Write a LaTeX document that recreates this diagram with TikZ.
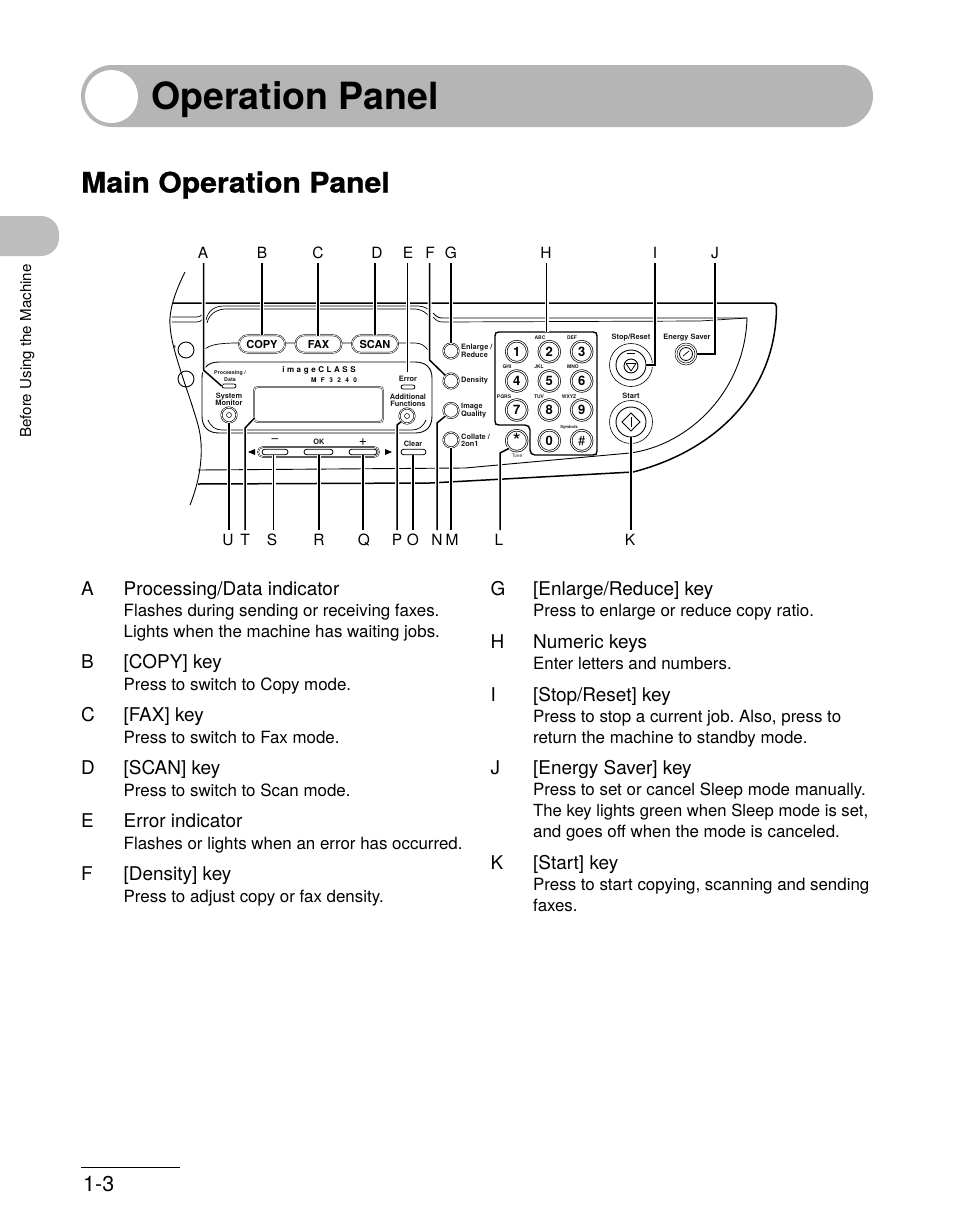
\documentclass[tikz,border=0pt]{standalone}
\usepackage{fontspec}
\setmainfont{TeX Gyre Heros}
\newfontfamily\heavyf[BoldFeatures={FakeBold=0.9,FakeStretch=1.07}]{TeX Gyre Heros}
\newcommand{\fsz}[1]{\fontsize{#1}{#1}\selectfont}
\definecolor{bargray}{HTML}{B5B5B5}
\definecolor{tabgray}{HTML}{BDBDBD}
\usetikzlibrary{shapes.misc}
\tikzset{
  lettr/.style={inner sep=0pt,text height=11pt,text depth=0pt,font=\fsz{15.5},outer ysep=4.5pt},
  conn/.style={line width=1.5pt,line join=miter,preaction={draw=white,line width=4pt}},
  heavyln/.style={line width=1.5pt},
  midln/.style={line width=0.9pt},
  thinln/.style={line width=0.7pt},
  rtxt/.style={inner sep=0pt,anchor=base west,font=\fsz{18.95}},
  stxt/.style={inner sep=0pt,anchor=base west,font=\fsz{16.9}},
  ptxt/.style={inner sep=0pt,align=center,font={\bfseries\fsz{7.4}},text=black!90},
  ltxt/.style={inner sep=0pt,align=left,anchor=west,font={\bfseries\fsz{7.4}},text=black!90},
  ktxt/.style={inner sep=0pt,font={\bfseries\fsz{5}},text=black!90},
  pillk/.style={draw,line width=0.8pt,rounded rectangle,inner sep=0pt,fill=white},
  modekey/.style={pillk,line width=0.5pt,double,double distance=0.7pt,minimum width=46pt,minimum height=17.5pt,font={\bfseries\fsz{11}}},
  roundkey/.style={circle,draw,inner sep=0pt,minimum size=15pt,line width=0.6pt,double,double distance=0.8pt},
  numkey/.style={circle,draw,inner sep=0pt,minimum size=21pt,line width=0.7pt,double,double distance=1pt,font={\bfseries\fsz{13}}},
}
\newcommand{\itm}[5]{%
  \node[rtxt] (#1l) at (#2,#3) {#4};
  \pgfmathsetmacro{\tx}{#2+42.5}
  \node[rtxt] (#1h) at (\tx,#3) {#5};}
\begin{document}
\frenchspacing
\begin{tikzpicture}[x=1pt,y=-1pt]
\useasboundingbox (0,0) rectangle (954,1227);
% title band
\fill[bargray,rounded corners=31pt] (81,65) rectangle (873,127);
\fill[white] (111.5,96.5) circle[radius=26.5];
\node[inner sep=0pt,anchor=base west,font={\bfseries\fsz{37.5}}] (title) at (151,109) {Operation Panel};
\node[inner sep=0pt,anchor=base west,font={\heavyf\bfseries\fsz{28.2}}] (main) at (81,192.5) {Main Operation Panel};
% side tab
\fill[tabgray,rounded corners=18pt] (-30,216) rectangle (59,256);
\node[inner sep=0pt,rotate=90,anchor=base west,font=\fsz{15.1}] (side) at (31,438) {Before Using the Machine};
% footer
\draw[line width=0.9pt] (81,1167) -- (180,1167);
\node[inner sep=0pt,anchor=base west,font=\fsz{21.5}] (page) at (83,1191) {1-3};

% ---- machine outline
\draw[midln] (185,272) .. controls (175,292) and (169,310) .. (170,325) .. controls (171,350) and (190,395) .. (198,425) .. controls (205,450) and (200,480) .. (190,505);
\draw[heavyln] (173,303) -- (773,303) .. controls (775,303) and (776.5,304) .. (776.5,307) .. controls (776,395) and (712,452) .. (633,472) -- (430,483) -- (198,484);
\draw[line width=0.9pt] (198,470) -- (465,468) -- (630,453) .. controls (690,445) and (745,390) .. (747,318) -- (442,318) .. controls (438,318) and (436,316) .. (433,313);
\draw[thinln] (442,322) -- (700,321) -- (747,318);
\draw[thinln] (442,322) .. controls (438,322) and (436,320) .. (433,317);
\draw[thinln] (172,317) -- (197,317) .. controls (199,317) and (201,316) .. (203,314);
\draw[thinln] (172,322) -- (197,322) .. controls (199,322) and (201,321) .. (203,319);
\draw[thinln] (206,320) .. controls (208,311) and (214,306) .. (224,306) -- (418,306) .. controls (424,306) and (428,309) .. (430,311);
\draw[thinln] (207,323) .. controls (209,314) and (217,309) .. (226,309) -- (416,309) .. controls (423,310) and (426,313) .. (429,316);
% panel recess
\draw[line width=0.9pt] (219,362) -- (415,362) .. controls (426,362) and (432,368) .. (432,378) -- (432,416) .. controls (432,427) and (426,433) .. (415,433) -- (219,433) .. controls (208,433) and (202,427) .. (202,416) -- (202,378) .. controls (202,368) and (208,362) .. (219,362) -- cycle;
\draw[thinln] (208,420) .. controls (211,427) and (216,430) .. (222,430) -- (412,430) .. controls (418,430) and (423,427) .. (426,420);
% button strip
\draw[thinln] (205,349) .. controls (210,345) and (218,343) .. (238,343) (285,343) -- (295,343) (342,343) -- (352,343) (398,343) -- (415,343) .. controls (421,343) and (425,346) .. (428,350);
% display
\draw[line width=0.6pt,double,double distance=0.7pt,draw=black!80] (258,387) -- (379,387) .. controls (382,387) and (383,388) .. (383,391) -- (383,418) .. controls (383,421) and (382,422) .. (379,422) -- (258,422) .. controls (255,422) and (254,421) .. (254,418) -- (254,391) .. controls (254,388) and (255,387) .. (258,387) -- cycle;
\node[inner sep=0pt,font={\bfseries\fsz{8}\addfontfeature{LetterSpace=32}}] (brand) at (319,370) {imageCLASS};
\node[inner sep=0pt,font={\bfseries\fsz{6.5}\addfontfeature{LetterSpace=68}}] (model) at (334,380) {MF3240};
% mode keys
\node[modekey] (kCopy) at (262,344) {COPY};
\node[modekey] (kFax) at (318.5,344) {FAX};
\node[modekey] (kScan) at (375,344) {SCAN};
% left stubs
\node[circle,draw,line width=0.9pt,minimum size=16pt,inner sep=0pt] (sA) at (186,350) {};
\node[circle,draw,line width=0.9pt,minimum size=16pt,inner sep=0pt] (sB) at (186,379) {};
\node[ptxt,font={\bfseries\fsz{5.5}}] (sS) at (174.5,347.5) {s};
% panel texts & indicators
\node[ptxt,font={\bfseries\fsz{5.3}}] (tProc) at (230,376) {Processing /\\[1.5pt]Data};
\node[pillk,minimum width=14pt,minimum height=4pt] (ledA) at (229,386) {};
\node[ptxt] (tSys) at (229,399.5) {System\\[0pt]Monitor};
\node[roundkey] (kSys) at (229,415) {};
\node[circle,draw,line width=0.5pt,inner sep=0pt,minimum size=5pt] (kSysI) at (229,415) {};
\node[ptxt] (tErr) at (408,379) {Error};
\node[pillk,minimum width=14pt,minimum height=4pt] (ledE) at (408,387) {};
\node[ptxt] (tAdd) at (408,400.5) {Additional\\[0pt]Functions};
\node[roundkey] (kAdd) at (407,416) {};
\node[circle,draw,line width=0.5pt,inner sep=0pt,minimum size=5pt] (kAddI) at (407,416) {};
% cursor row
\node[draw,line width=0.45pt,double,double distance=0.7pt,rounded rectangle,minimum width=121pt,minimum height=10pt,inner sep=0pt] (cRow) at (318.5,452) {};
\node[pillk,minimum width=26pt,minimum height=5.5pt] (kMinus) at (275,452) {};
\node[pillk,minimum width=29pt,minimum height=5.5pt] (kOK) at (318.5,452) {};
\node[pillk,minimum width=28pt,minimum height=5.5pt] (kPlus) at (363,452) {};
\node[pillk,minimum width=25pt,minimum height=5.5pt] (kClear) at (413.5,452) {};
\node[inner sep=0pt,font={\fsz{12}}] (tMinus) at (275,441) {--};
\node[ptxt] (tOK) at (319,442) {OK};
\node[inner sep=0pt,font=\fsz{14}] (tPlus) at (363,442) {+};
\node[ptxt] (tClear) at (413,444) {Clear};
\fill (248,452) -- (255,449) -- (255,455) -- cycle;
\fill (392,452) -- (385,449) -- (385,455) -- cycle;
% side keys
\node[roundkey] (kEnl) at (451,351) {};
\node[roundkey] (kDen) at (451,381) {};
\node[roundkey] (kImg) at (451,410.5) {};
\node[roundkey] (kCol) at (451,440) {};
\node[ltxt] (tEnl) at (461,351) {Enlarge /\\[0pt]Reduce};
\node[ltxt] (tDen) at (461,381) {Density};
\node[ltxt] (tImg) at (461,410.5) {Image\\[0pt]Quality};
\node[ltxt] (tCol) at (461,440.5) {Collate /\\[0pt]2on1};
% keypad
\draw[line width=1.4pt] (499,332) -- (593,332) .. controls (596,332) and (597,333) .. (597,336) -- (597,451) .. controls (597,454) and (596,455) .. (593,455) -- (535,455) .. controls (532,455) and (530,453) .. (530,450) -- (530,430) .. controls (530,427) and (528,425) .. (525,425) -- (499,425) .. controls (496,425) and (495,424) .. (495,421) -- (495,336) .. controls (495,333) and (496,332) .. (499,332) -- cycle;
\node[numkey] (k1) at (516.7,351.7) {1};
\node[numkey] (k2) at (549.3,351.7) {2};
\node[numkey] (k3) at (581.7,351.7) {3};
\node[numkey] (k4) at (516.7,381) {4};
\node[numkey] (k5) at (549.3,381) {5};
\node[numkey] (k6) at (581.7,381) {6};
\node[numkey] (k7) at (516.7,410) {7};
\node[numkey] (k8) at (549.3,410) {8};
\node[numkey] (k9) at (581.7,410) {9};
\node[numkey,fill=white,font=\fsz{21}] (kStar) at (516.7,440.7) {\raisebox{-5pt}{*}};
\node[numkey] (k0) at (549.3,440.7) {0};
\node[numkey,font=\fsz{13}] (kHash) at (581.7,440.7) {\#};
\node[ktxt] (tABC) at (540,338) {ABC};
\node[ktxt] (tDEF) at (572,338) {DEF};
\node[ktxt] (tGHI) at (507,367) {GHI};
\node[ktxt] (tJKL) at (539,367) {JKL};
\node[ktxt] (tMNO) at (573,367) {MNO};
\node[ktxt] (tPQRS) at (504,397) {PQRS};
\node[ktxt] (tTUV) at (539,397) {TUV};
\node[ktxt] (tWXYZ) at (569,397) {WXYZ};
\node[ktxt,font={\bfseries\fsz{4.2}}] (tSymb) at (569,427) {Symbols};
\node[ktxt,font={\fsz{4.8}}] (tTone) at (517,456) {Tone};
% stop / start / energy
\node[ptxt] (tStop) at (631,338) {Stop/Reset};
\node[circle,draw,line width=0.6pt,minimum size=43pt,inner sep=0pt] (kStop) at (631,365) {};
\node[circle,draw,line width=0.9pt,minimum size=30pt,inner sep=0pt] (kStopI) at (631,365) {};
\node[circle,draw,line width=0.9pt,minimum size=14pt,inner sep=0pt] (kStopC) at (631,366) {};
\draw[line width=0.8pt,line join=round] (626,363.5) -- (636,363.5) -- (631,371) -- cycle;
\draw[line width=0.5pt] (627,353) -- (635,353);
\node[ptxt] (tStart) at (631,396) {Start};
\node[circle,draw,line width=0.6pt,minimum size=43pt,inner sep=0pt] (kStart) at (631,422) {};
\node[circle,draw,line width=0.9pt,minimum size=30pt,inner sep=0pt] (kStartI) at (631,422) {};
\draw[line width=1pt,line join=miter] (631,413) -- (640,422) -- (631,431) -- (622,422) -- cycle;
\draw[line width=1pt] (631,417) -- (631,427);
\node[ptxt] (tEn) at (687,338) {Energy Saver};
\node[circle,draw,line width=0.5pt,minimum size=22pt,inner sep=0pt] (kEn) at (686,354) {};
\node[circle,draw,line width=0.5pt,minimum size=18pt,inner sep=0pt] (kEn2) at (686,354) {};
\node[circle,draw,line width=0.8pt,minimum size=13pt,inner sep=0pt] (kEn3) at (686,354) {};
\draw[line width=0.7pt] (683,356) -- (689,351);

% ---- letters
\node[lettr] (lA) at (203,253) {A};
\node[lettr] (lB) at (262,253) {B};
\node[lettr] (lC) at (318,253) {C};
\node[lettr] (lD) at (377,253) {D};
\node[lettr] (lE) at (408,253) {E};
\node[lettr] (lF) at (430,253) {F};
\node[lettr] (lG) at (451,253) {G};
\node[lettr] (lH) at (546,253) {H};
\node[lettr] (lI) at (655,253) {I};
\node[lettr] (lJ) at (715,253) {J};
\node[lettr] (lU) at (228,540) {U};
\node[lettr] (lT) at (245,540) {T};
\node[lettr] (lS) at (272,540) {S};
\node[lettr] (lR) at (319,540) {R};
\node[lettr] (lQ) at (364,540) {Q};
\node[lettr] (lP) at (397,540) {P};
\node[lettr] (lO) at (413,540) {O};
\node[lettr] (lN) at (437,540) {N};
\node[lettr] (lM) at (452,540) {M};
\node[lettr] (lL) at (499,540) {L};
\node[lettr] (lK) at (630,540) {K};
% ---- connectors
\coordinate (pT) at (254.5,418);
\coordinate (pE) at (407.5,372);
\coordinate (pH) at (546.5,332);
\coordinate (pS) at (273.5,455);
\draw[conn] (lA.south -| 203.5,0) -- (203.5,370) -- (ledA.west);
\draw[conn] (lB.south) -- (kCopy.north);
\draw[conn] (lC.south) -- (318,336);
\draw[conn] (lD.south -| kScan.north) -- (kScan.north);
\draw[conn] (lE.south -| pE) -- (pE);
\draw[conn] (lF.south -| 429.5,0) -- (429.5,360) -- (kDen.north west);
\draw[conn] (lG.south -| kEnl.north) -- (kEnl.north);
\draw[conn] (lH.south -| pH) -- (pH);
\draw[conn] (lI.south) -- (655,365) -- (kStopI.east);
\draw[conn] (lJ.south) -- (715,354) -- (kEn.east);
\draw[conn] (lK.north -| kStartI.south) -- (kStartI.south);
\draw[conn] (lL.north -| 500,0) -- (500,453) -- (kStar.south west);
\draw[conn] (lM.north -| kCol.south) -- (kCol.south);
\draw[conn] (lN.north) -- (437,423) -- (kImg.south west);
\draw[conn] (lO.north) -- (lO.north |- kClear.south);
\draw[conn] (lP.north) -- (397,425) -- (kAdd.south west);
\draw[conn] (lQ.north -| kPlus.south) -- (kPlus.south);
\draw[conn] (lR.north) -- (lR.north |- kOK.south);
\draw[conn] (lS.north -| pS) -- (pS);
\draw[conn] (lT.north) -- (245,428) -- (pT);
\draw[conn] (lU.north -| kSys.south) -- (kSys.south);
% ---- legend left
\itm{A}{81}{595}{A}{Processing/Data indicator}
\node[stxt] (A1) at (123.5,616) {Flashes during sending or receiving faxes.};
\node[stxt] (A2) at (123.5,637) {Lights when the machine has waiting jobs.};
\itm{B}{81}{668}{B}{[COPY] key}
\node[stxt] (B1) at (123.5,690) {Press to switch to Copy mode.};
\itm{C}{81}{721}{C}{[FAX] key}
\node[stxt] (C1) at (123.5,743) {Press to switch to Fax mode.};
\itm{D}{81}{774}{D}{[SCAN] key}
\node[stxt] (D1) at (123.5,796) {Press to switch to Scan mode.};
\itm{E}{81}{827}{E}{Error indicator}
\node[stxt] (E1) at (123.5,849) {Flashes or lights when an error has occurred.};
\itm{F}{81}{880}{F}{[Density] key}
\node[stxt] (F1) at (123.5,902) {Press to adjust copy or fax density.};
% ---- legend right
\itm{G}{490.5}{595}{G}{[Enlarge/Reduce] key}
\node[stxt] (G1) at (533,616) {Press to enlarge or reduce copy ratio.};
\itm{H}{490.5}{648}{H}{Numeric keys}
\node[stxt] (H1) at (533,669) {Enter letters and numbers.};
\itm{I}{490.5}{701}{I}{[Stop/Reset] key}
\node[stxt] (I1) at (533,722) {Press to stop a current job. Also, press to};
\node[stxt] (I2) at (533,743) {return the machine to standby mode.};
\itm{J}{490.5}{774}{J}{[Energy Saver] key}
\node[stxt] (J1) at (533,795) {Press to set or cancel Sleep mode manually.};
\node[stxt,font=\fsz{16.65}] (J2) at (533,816) {The key lights green when Sleep mode is set,};
\node[stxt] (J3) at (533,837) {and goes off when the mode is canceled.};
\itm{K}{490.5}{869}{K}{[Start] key}
\node[stxt] (K1) at (533,890) {Press to start copying, scanning and sending};
\node[stxt] (K2) at (533,911) {faxes.};
\end{tikzpicture}
\end{document}
